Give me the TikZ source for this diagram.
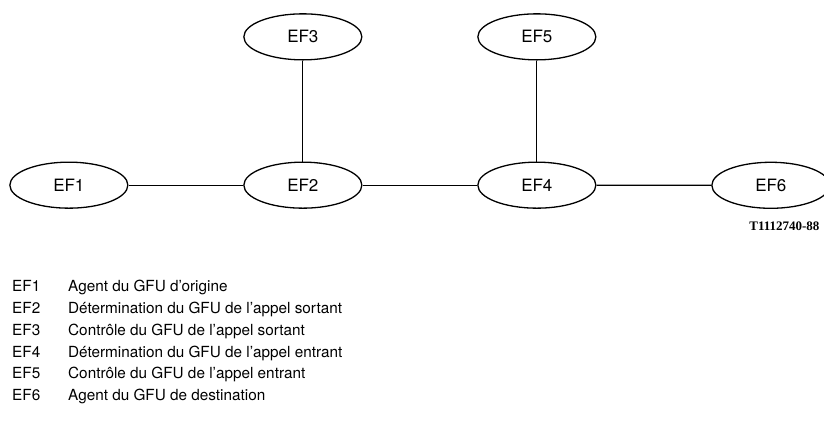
\documentclass[tikz,border=0pt]{standalone}
\usepackage{fontspec}
\setmainfont{TeX Gyre Heros}
\newfontfamily\refserif{Liberation Serif}
\usetikzlibrary{matrix,shapes.geometric}

\begin{document}
\begin{tikzpicture}[x=1pt,y=-1pt,
    fe/.style={ellipse,draw,line width=1.3pt,minimum width=118pt,minimum height=46pt,inner sep=0pt,
      font=\fontsize{17}{19}\selectfont}]
  \useasboundingbox (0,0) rectangle (824,424);
  \matrix (ef) [matrix of nodes,nodes={fe},anchor=north west,inner sep=0pt,row sep=101pt,column sep=114.7pt] at (9,13) {
          & EF3 & EF5 &     \\
      EF1 & EF2 & EF4 & EF6 \\};
  \path[line width=1.2pt]
    (ef-2-1) edge (ef-2-2)
    (ef-2-2) edge (ef-2-3)
    (ef-2-3) edge (ef-2-4)
    (ef-1-2) edge (ef-2-2)
    (ef-1-3) edge (ef-2-3);
  \node (ref) [anchor=east,font=\refserif\bfseries\fontsize{13}{14}\selectfont] at (823,226) {T1112740-88};
  % legend
  \matrix (leg) [matrix of nodes,anchor=north west,inner sep=0pt,row sep=7.8pt,column sep=0pt,
      nodes={inner sep=0pt,anchor=base west,text height=11pt,text depth=3pt,font=\fontsize{15.3}{17}\selectfont},
      column 1/.style={nodes={text width=56pt}}] at (12,280.5) {
    EF1 & Agent du GFU d’origine \\
    EF2 & Détermination du GFU de l’appel sortant \\
    EF3 & Contrôle du GFU de l’appel sortant \\
    EF4 & Détermination du GFU de l’appel entrant \\
    EF5 & Contrôle du GFU de l’appel entrant \\
    EF6 & Agent du GFU de destination \\};
\end{tikzpicture}
\end{document}
